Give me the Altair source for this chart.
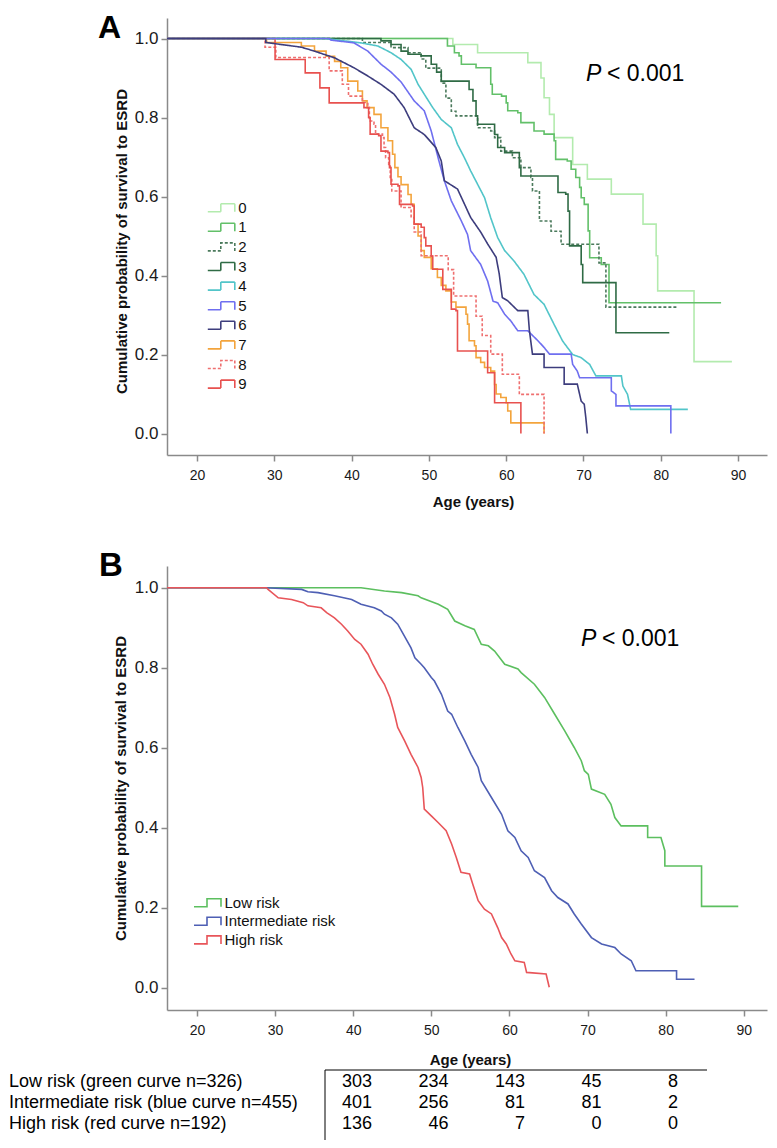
import altair as alt
import pandas as pd

FONT = "Liberation Sans, Arial, Helvetica, sans-serif"
GRAY = "#8a8a8a"
STEP_SYMBOL = "M-2.7,0.8H-0.1V-0.8H2.7V0.8"

X_TICKS = [20, 30, 40, 50, 60, 70, 80, 90]
Y_TICKS = [0.0, 0.2, 0.4, 0.6, 0.8, 1.0]
Y_TITLE = "Cumulative probability of survival to ESRD"
X_TITLE = "Age (years)"
P_TEXT = "< 0.001"

# ---------------- Panel A: groups 0-9 ----------------
A_GROUPS = ["0", "1", "2", "3", "4", "5", "6", "7", "8", "9"]
A_COLORS = ["#b3ebae", "#62c069", "#4b7a5c", "#2f6b45", "#52c5c9",
            "#6f6ff0", "#3d3d7d", "#f3a43c", "#ef7070", "#e8514f"]
A_DASH = [[1, 0], [1, 0], [3, 2], [1, 0], [1, 0], [1, 0], [1, 0], [1, 0], [3, 2], [1, 0]]

A_AGE_0 = [16.12, 53.1, 56.3, 62.8, 64.5, 64.9, 65.6, 66.2, 68.6, 70.5, 73.6, 77.7, 79.4, 79.6, 84.3, 89.2]
A_SURV_0 = [1.0, 0.985, 0.964, 0.939, 0.90, 0.850, 0.808, 0.749, 0.681, 0.644, 0.606, 0.530, 0.45, 0.361, 0.182, 0.182]

A_AGE_1 = [16.12, 52.4, 53.3, 53.9, 54.2, 56.1, 58.0, 58.2, 59.4, 60.0, 60.2, 61.5, 61.9, 63.6, 64.9, 66.2,
           66.4, 67.9, 68.4, 69.0, 69.5, 69.7, 70.1, 70.6, 70.8, 72.3, 73.3, 87.8]
A_SURV_1 = [1.0, 0.981, 0.964, 0.956, 0.935, 0.926, 0.884, 0.859, 0.854, 0.837, 0.817, 0.812, 0.787, 0.766,
            0.758, 0.741, 0.694, 0.690, 0.669, 0.648, 0.623, 0.597, 0.580, 0.513, 0.445, 0.428, 0.331, 0.331]

A_AGE_2 = [16.12, 41.4, 45.1, 47.3, 49.0, 49.6, 51.6, 52.2, 52.9, 53.5, 56.3, 58.0, 58.5, 59.3, 60.8, 61.9,
           63.2, 63.4, 64.3, 65.8, 67.1, 72.0, 72.9, 82.1]
A_SURV_2 = [1.0, 0.990, 0.977, 0.964, 0.948, 0.925, 0.887, 0.849, 0.816, 0.804, 0.774, 0.766, 0.749, 0.715,
            0.698, 0.673, 0.648, 0.614, 0.538, 0.512, 0.479, 0.432, 0.320, 0.320]

A_AGE_3 = [16.12, 43.8, 45.1, 46.4, 47.3, 49.0, 50.3, 51.0, 51.6, 55.2, 55.7, 56.1, 56.3, 58.5, 58.9, 59.8,
           61.7, 61.9, 66.7, 67.7, 68.0, 68.2, 69.7, 69.9, 74.2, 81.1]
A_SURV_3 = [1.0, 0.994, 0.985, 0.968, 0.960, 0.956, 0.935, 0.915, 0.892, 0.871, 0.842, 0.804, 0.783, 0.757,
            0.724, 0.711, 0.673, 0.652, 0.610, 0.606, 0.563, 0.475, 0.428, 0.382, 0.255, 0.255]

A_AGE_4 = [16.12, 36.5, 41.2, 43.4, 45.1, 46.4, 47.7, 48.6, 49.4, 50.5, 51.6, 52.9, 53.7, 54.6, 55.4, 56.3,
           57.2, 58.0, 58.9, 59.8, 61.0, 62.3, 63.6, 64.9, 66.2, 67.3, 68.6, 69.7, 70.8, 71.6, 74.9, 75.1,
           75.7, 76.1, 83.5]
A_SURV_4 = [1.0, 1.0, 0.989, 0.981, 0.964, 0.947, 0.922, 0.884, 0.859, 0.825, 0.795, 0.774, 0.732, 0.698,
            0.665, 0.631, 0.597, 0.546, 0.496, 0.463, 0.437, 0.403, 0.352, 0.327, 0.276, 0.234, 0.200, 0.192,
            0.175, 0.146, 0.146, 0.120, 0.099, 0.061, 0.061]

A_AGE_5 = [16.12, 37.1, 37.3, 40.3, 42.1, 43.8, 45.1, 46.4, 48.1, 49.4, 50.3, 51.3, 52.0, 52.9, 54.2, 55.0,
           55.4, 56.7, 57.6, 58.3, 58.9, 59.8, 60.6, 61.5, 62.8, 64.1, 64.9, 65.6, 68.4, 68.6, 69.2, 69.5,
           73.6, 73.6, 74.2, 74.2, 81.3, 81.3]
A_SURV_5 = [1.0, 1.0, 0.996, 0.989, 0.968, 0.935, 0.915, 0.890, 0.842, 0.817, 0.766, 0.690, 0.640, 0.589,
            0.538, 0.504, 0.463, 0.428, 0.386, 0.335, 0.331, 0.302, 0.285, 0.260, 0.260, 0.235, 0.218, 0.201,
            0.201, 0.175, 0.158, 0.141, 0.141, 0.108, 0.099, 0.070, 0.070, 0.0]

A_AGE_6 = [16.12, 28.9, 28.9, 33.5, 35.2, 37.8, 40.3, 42.1, 43.8, 45.5, 46.8, 48.1, 49.4, 50.9, 51.6, 52.0,
           53.7, 54.6, 55.4, 56.7, 57.6, 58.7, 59.1, 59.5, 60.2, 61.5, 62.8, 63.0, 63.4, 64.9, 64.9, 67.5,
           67.5, 69.2, 69.7, 70.1, 70.3, 70.5]
A_SURV_6 = [1.0, 1.0, 0.990, 0.978, 0.968, 0.951, 0.926, 0.905, 0.884, 0.859, 0.825, 0.774, 0.757, 0.724,
            0.690, 0.640, 0.619, 0.581, 0.547, 0.510, 0.480, 0.446, 0.404, 0.344, 0.336, 0.311, 0.311, 0.261,
            0.201, 0.201, 0.167, 0.167, 0.125, 0.125, 0.082, 0.074, 0.040, 0.0]

A_AGE_7 = [16.12, 29.0, 33.5, 35.2, 36.7, 37.8, 38.6, 39.5, 40.8, 41.4, 42.0, 42.9, 43.8, 44.7, 45.3, 45.6,
           46.0, 46.4, 47.3, 47.7, 48.1, 48.6, 49.0, 49.4, 50.3, 51.1, 51.6, 52.2, 52.9, 53.5, 54.8, 55.0,
           55.2, 55.9, 56.1, 56.7, 57.2, 58.0, 58.5, 58.7, 59.3, 60.0, 60.2, 60.6, 64.9]
A_SURV_7 = [1.0, 0.990, 0.981, 0.968, 0.955, 0.942, 0.926, 0.892, 0.867, 0.842, 0.825, 0.808, 0.774, 0.741,
            0.707, 0.673, 0.650, 0.630, 0.605, 0.580, 0.530, 0.500, 0.463, 0.446, 0.417, 0.395, 0.375, 0.361,
            0.333, 0.320, 0.302, 0.277, 0.235, 0.222, 0.192, 0.180, 0.167, 0.158, 0.124, 0.100, 0.091, 0.078,
            0.057, 0.027, 0.0]

A_AGE_8 = [16.12, 28.8, 30.2, 37.1, 38.8, 39.6, 41.4, 42.1, 42.3, 42.9, 43.1, 44.0, 44.2, 44.4, 44.8, 45.0,
           45.2, 46.4, 47.7, 48.1, 49.0, 52.5, 53.2, 56.1, 56.9, 58.0, 59.5, 61.7, 64.9]
A_SURV_8 = [1.0, 0.978, 0.952, 0.918, 0.884, 0.854, 0.838, 0.825, 0.791, 0.783, 0.758, 0.749, 0.724, 0.698,
            0.681, 0.648, 0.614, 0.572, 0.547, 0.510, 0.450, 0.415, 0.348, 0.297, 0.248, 0.201, 0.150, 0.099, 0.0]

A_AGE_9 = [16.12, 30.1, 34.0, 35.9, 37.1, 41.6, 42.2, 42.4, 43.5, 43.8, 44.7, 44.9, 45.1, 46.0, 46.2, 47.9,
           48.1, 49.0, 49.4, 49.6, 50.3, 50.5, 51.8, 52.9, 53.5, 53.7, 57.6, 58.5, 61.9]
A_SURV_9 = [1.0, 0.947, 0.913, 0.875, 0.837, 0.825, 0.800, 0.758, 0.754, 0.715, 0.711, 0.673, 0.631, 0.627,
            0.580, 0.576, 0.530, 0.522, 0.496, 0.475, 0.449, 0.416, 0.365, 0.315, 0.311, 0.209, 0.154, 0.078, 0.0]

# curves drawn as step functions vs. dense curves drawn through their corner points
A_STEP = [("0", A_AGE_0, A_SURV_0), ("1", A_AGE_1, A_SURV_1), ("2", A_AGE_2, A_SURV_2),
          ("3", A_AGE_3, A_SURV_3), ("7", A_AGE_7, A_SURV_7), ("8", A_AGE_8, A_SURV_8),
          ("9", A_AGE_9, A_SURV_9)]
A_DENSE = [("4", A_AGE_4, A_SURV_4), ("5", A_AGE_5, A_SURV_5), ("6", A_AGE_6, A_SURV_6)]

# ---------------- Panel B: risk classes ----------------
B_GROUPS = ["Low risk", "Intermediate risk", "High risk"]
B_COLORS = ["#5cbf5f", "#4e5fb4", "#e8555a"]

B_AGE_LOW = [16.16, 41.0, 44.0, 46.2, 48.3, 48.7, 50.9, 52.1, 53.0, 54.3, 55.5, 56.4, 57.3, 58.1, 59.4, 61.1,
             61.5, 63.2, 64.5, 65.8, 67.1, 68.3, 69.2, 69.6, 70.1, 70.5, 72.2, 73.0, 73.5, 74.3, 77.7, 77.7,
             79.4, 79.9, 79.9, 84.6, 84.6, 89.3]
B_SURV_LOW = [1.0, 1.0, 0.992, 0.988, 0.980, 0.975, 0.959, 0.946, 0.917, 0.905, 0.896, 0.859, 0.855, 0.842,
              0.809, 0.797, 0.788, 0.759, 0.726, 0.684, 0.642, 0.601, 0.568, 0.543, 0.534, 0.497, 0.484, 0.459,
              0.426, 0.405, 0.405, 0.376, 0.376, 0.343, 0.305, 0.305, 0.204, 0.204]

B_AGE_MID = [16.16, 28.7, 33.4, 34.2, 35.5, 37.6, 39.8, 41.0, 42.7, 43.6, 44.0, 44.9, 45.7, 46.2, 47.4, 47.9,
             48.7, 49.1, 50.0, 50.4, 51.3, 52.1, 52.6, 53.4, 54.3, 55.1, 56.0, 56.4, 57.7, 59.0, 59.8, 60.7,
             61.5, 62.4, 63.2, 64.5, 65.4, 66.2, 67.5, 68.3, 69.2, 70.5, 71.8, 73.5, 74.3, 75.6, 76.2, 81.4,
             81.4, 83.7]
B_SURV_MID = [1.0, 1.0, 0.996, 0.990, 0.988, 0.980, 0.971, 0.959, 0.950, 0.942, 0.934, 0.925, 0.909, 0.892,
              0.850, 0.825, 0.809, 0.800, 0.776, 0.767, 0.734, 0.692, 0.684, 0.651, 0.617, 0.584, 0.551, 0.518,
              0.476, 0.434, 0.393, 0.376, 0.343, 0.326, 0.293, 0.276, 0.243, 0.226, 0.210, 0.185, 0.160, 0.126,
              0.110, 0.101, 0.085, 0.068, 0.043, 0.043, 0.022, 0.022]

B_AGE_HIGH = [16.16, 28.9, 29.1, 30.4, 32.1, 33.6, 34.2, 35.9, 36.6, 37.6, 38.5, 39.3, 40.2, 41.0, 41.9, 42.5,
              43.2, 44.0, 44.7, 45.3, 45.7, 46.6, 47.4, 48.3, 48.7, 48.9, 49.1, 50.0, 50.9, 51.9, 52.6, 53.2,
              53.8, 54.9, 55.3, 56.0, 56.8, 57.7, 58.5, 59.0, 59.6, 60.2, 60.7, 61.9, 62.2, 64.7, 64.9, 65.1]
B_SURV_HIGH = [1.0, 1.0, 0.996, 0.975, 0.971, 0.963, 0.955, 0.950, 0.938, 0.925, 0.909, 0.892, 0.871, 0.859,
               0.834, 0.809, 0.784, 0.759, 0.726, 0.684, 0.651, 0.617, 0.584, 0.551, 0.526, 0.501, 0.447, 0.430,
               0.413, 0.393, 0.360, 0.326, 0.289, 0.285, 0.260, 0.218, 0.197, 0.185, 0.151, 0.126, 0.110, 0.085,
               0.068, 0.064, 0.039, 0.035, 0.018, 0.002]

B_CURVES = [("Low risk", B_AGE_LOW, B_SURV_LOW), ("Intermediate risk", B_AGE_MID, B_SURV_MID),
            ("High risk", B_AGE_HIGH, B_SURV_HIGH)]

# ---------------- numbers at risk table ----------------
TABLE_LABELS = ["Low risk (green curve n=326)", "Intermediate risk (blue curve n=455)",
                "High risk (red curve n=192)"]
RISK_LOW_N = [303, 234, 143, 45, 8]
RISK_MID_N = [401, 256, 81, 81, 2]
RISK_HIGH_N = [136, 46, 7, 0, 0]


def curve_frame(curves, key):
    rows = []
    for name, ages, survs in curves:
        for i, (a, s) in enumerate(zip(ages, survs)):
            rows.append({key: name, "age": a, "surv": s, "idx": i})
    return pd.DataFrame(rows)


def x_axis(tx, ty):
    return alt.Axis(values=X_TICKS, format="d", grid=False, domainColor=GRAY, domainWidth=1.5,
                    tickColor=GRAY, tickWidth=1.5, tickSize=6, labelFont=FONT, labelFontSize=14,
                    labelColor="#1a1a1a", labelPadding=7, title=X_TITLE, titleFont=FONT,
                    titleFontSize=15, titleFontWeight="bold", titleColor="#111111",
                    titleX=tx, titleY=ty, titleAlign="center", titleBaseline="middle")


def y_axis(tx, ty):
    return alt.Axis(values=Y_TICKS, format=".1f", grid=False, domainColor=GRAY, domainWidth=1.5,
                    tickColor=GRAY, tickWidth=1.5, tickSize=6, labelFont=FONT, labelFontSize=17,
                    labelColor="#1a1a1a", labelPadding=3, title=Y_TITLE, titleFont=FONT,
                    titleFontSize=15, titleFontWeight="bold", titleColor="#111111", titleAngle=270,
                    titleX=tx, titleY=ty, titleAlign="center", titleBaseline="middle")


def legend(lx, ly, row_pad):
    return alt.Legend(title=None, orient="none", legendX=lx, legendY=ly, symbolType=STEP_SYMBOL,
                      symbolSize=100, symbolStrokeWidth=1.6, symbolFillColor="transparent",
                      labelFont=FONT, labelFontSize=15, labelColor="#111111", rowPadding=row_pad,
                      labelOffset=9.5, padding=0, symbolOffset=0)


def note(text, x, y, size, weight="normal", style="normal", align="left"):
    return alt.Chart(pd.DataFrame({"t": [text]})).mark_text(
        align=align, baseline="alphabetic", fontSize=size, fontWeight=weight, fontStyle=style,
        font=FONT, color="black").encode(text="t:N", x=alt.value(x), y=alt.value(y))


# ---------------- Panel A chart ----------------
legA = legend(46.8, 182.2, 3.6)
xA = alt.X("age:Q", scale=alt.Scale(domain=[16.12, 93.74], nice=False, zero=False), axis=x_axis(306, 46))
yA = alt.Y("surv:Q", scale=alt.Scale(domain=[-0.0544, 1.0519], nice=False, zero=False), axis=y_axis(-46, 223))
colA = alt.Color("grp:N", scale=alt.Scale(domain=A_GROUPS, range=A_COLORS), legend=legA)
dashA = alt.StrokeDash("grp:N", scale=alt.Scale(domain=A_GROUPS, range=A_DASH), legend=legA)

stepA = alt.Chart(curve_frame(A_STEP, "grp")).mark_line(interpolate="step-after", strokeWidth=1.6).encode(
    x=xA, y=yA, color=colA, strokeDash=dashA, order=alt.Order("idx:Q"))
denseA = alt.Chart(curve_frame(A_DENSE, "grp")).mark_line(strokeWidth=1.6).encode(
    x=xA, y=yA, color=colA, strokeDash=dashA, order=alt.Order("idx:Q"))

panelA = alt.layer(
    stepA, denseA,
    note("A", -69, 20, 32, weight="bold"),
    note("P", 419, 63, 23, style="italic"),
    note(P_TEXT, 440, 63, 23),
).properties(width=600, height=437)

# ---------------- Panel B chart ----------------
legB = legend(33, 329.2, 2.6)
xB = alt.X("age:Q", scale=alt.Scale(domain=[16.16, 92.98], nice=False, zero=False), axis=x_axis(303, 49))
yB = alt.Y("surv:Q", scale=alt.Scale(domain=[-0.055, 1.0545], nice=False, zero=False), axis=y_axis(-47, 222))
colB = alt.Color("risk:N", scale=alt.Scale(domain=B_GROUPS, range=B_COLORS), legend=legB)

linesB = alt.Chart(curve_frame(B_CURVES, "risk")).mark_line(strokeWidth=1.6).encode(
    x=xB, y=yB, color=colB, order=alt.Order("idx:Q"))

num_rows = []
for r, vals in enumerate([RISK_LOW_N, RISK_MID_N, RISK_HIGH_N]):
    for c, v in enumerate(vals):
        num_rows.append({"row": r, "col": c, "n": v})
num_df = pd.DataFrame(num_rows)
lab_df = pd.DataFrame({"row": [0, 1, 2], "label": TABLE_LABELS})

row_scale = alt.Scale(domain=[0, 2], range=[516, 558], nice=False, zero=False)
col_scale = alt.Scale(domain=[0, 4], range=[205, 511], nice=False, zero=False)

numsB = alt.Chart(num_df).mark_text(align="right", baseline="middle", fontSize=18, font=FONT,
                                     color="black").encode(
    x=alt.X("col:Q", scale=col_scale, axis=None),
    y=alt.Y("row:Q", scale=row_scale, axis=None),
    text=alt.Text("n:Q"))
labsB = alt.Chart(lab_df).mark_text(align="left", baseline="middle", fontSize=18, font=FONT,
                                     color="black").encode(
    x=alt.value(-158),
    y=alt.Y("row:Q", scale=row_scale, axis=None),
    text="label:N")
one = pd.DataFrame({"k": [0]})
hruleB = alt.Chart(one).mark_rule(color="black", strokeWidth=1).encode(
    x=alt.value(158), x2=alt.value(540), y=alt.value(504))
vruleB = alt.Chart(one).mark_rule(color="black", strokeWidth=1).encode(
    x=alt.value(158), y=alt.value(504), y2=alt.value(574))

panelB = alt.layer(
    linesB,
    note("B", -68, 10, 33, weight="bold"),
    note("P", 414, 80, 23, style="italic"),
    note(P_TEXT, 435, 80, 23),
    numsB, labsB, hruleB, vruleB,
).resolve_scale(x="independent", y="independent").properties(width=600, height=444)

chart = alt.vconcat(panelA, panelB, spacing=111, bounds="flush").resolve_scale(
    color="independent", strokeDash="independent"
).properties(padding={"top": 3, "left": 0, "right": 0, "bottom": 0}).configure_view(stroke="transparent")

chart.save("out.html", embed_options={"renderer": "svg", "actions": False})
